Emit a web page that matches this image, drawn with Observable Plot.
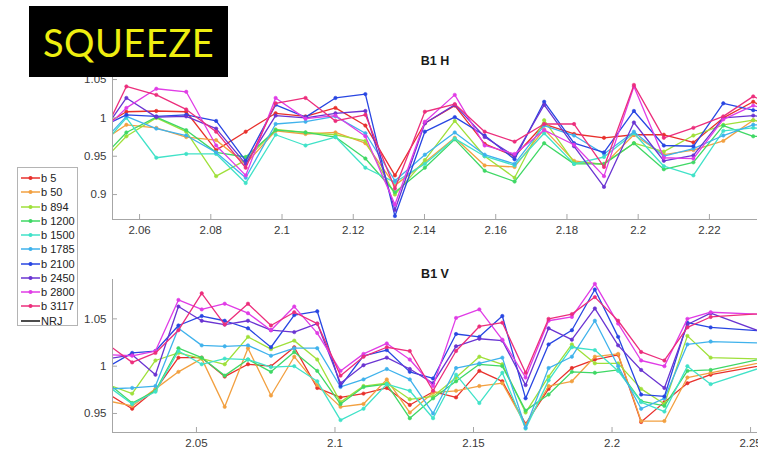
<!DOCTYPE html>
<html><head><meta charset="utf-8">
<script src="https://cdn.jsdelivr.net/npm/d3@7"></script>
<script src="https://cdn.jsdelivr.net/npm/@observablehq/plot@0.6"></script>
<style>
body{margin:0;background:#fff;}
#wrap{position:relative;width:758px;height:452px;overflow:hidden;font-family:"Liberation Sans",Arial,sans-serif;background:#fff;}
#top,#bot{position:absolute;left:0;}
#top{top:0;}
#bot{top:240px;}
#badge{position:absolute;left:29px;top:6px;width:199px;height:71px;background:#000;color:#eeee10;font-family:Lato,"Open Sans",sans-serif;font-size:38px;display:flex;align-items:center;justify-content:center;z-index:5;letter-spacing:0.5px;}
#legend{position:absolute;left:17px;top:167px;width:59px;height:157px;border:1px solid #b4b4b4;background:#fff;z-index:4;}
.row{position:absolute;left:0;height:14px;display:flex;align-items:center;font-size:11px;color:#222;white-space:nowrap;}
.row svg{display:block;flex:none;}
</style>
</head><body>
<div id="wrap">
  <div id="top"></div>
  <div id="bot"></div>
  <div id="badge">SQUEEZE</div>
  <div id="legend"></div>
</div>
<script>
// ---- legend / series ----
const names  = ["b 5","b 50","b 894","b 1200","b 1500","b 1785","b 2100","b 2450","b 2800","b 3117"];
const colors = ["#e8302c","#f2a040","#9fe03a","#3fd865","#40e2c8","#3fb2ec","#2846e2","#6a34d2","#e03ce6","#ec2e7c"];
const extraName = "NRJ";
const extraColor = "#111111";

// ---- x positions (energy) ----
const xH = [2.0479,2.0563,2.0647,2.0731,2.0815,2.0898,2.0982,2.1066,2.1150,2.1234,2.1317,2.1401,2.1485,2.1569,2.1653,2.1736,2.1820,2.1904,2.1988,2.2072,2.2155,2.2239,2.2323,2.2407];
const xV = [2.0185,2.0268,2.0352,2.0435,2.0519,2.0602,2.0686,2.0769,2.0853,2.0936,2.1020,2.1103,2.1187,2.1270,2.1354,2.1437,2.1521,2.1604,2.1688,2.1771,2.1855,2.1938,2.2022,2.2105,2.2189,2.2272,2.2356,2.2606];

// ---- B1 H values ----
const H_b5    = [0.985,1.008,1.009,1.008,0.958,0.982,1.006,1.002,1.013,0.990,0.925,0.993,1.016,0.966,0.950,0.992,0.979,0.974,0.978,0.978,0.968,1.000,1.021,1.000];
const H_b50   = [0.965,0.991,0.987,0.975,0.971,0.940,0.983,0.979,0.981,0.967,0.912,0.942,0.974,0.938,0.936,0.985,0.944,0.939,0.978,0.952,0.958,0.970,0.997,0.990];
const H_b894  = [0.935,0.976,1.000,0.982,0.924,0.945,0.985,0.981,0.978,0.970,0.900,0.945,0.996,0.950,0.922,0.997,0.942,0.940,0.967,0.956,0.977,0.991,0.997,0.990];
const H_b1200 = [0.940,0.981,1.001,0.984,0.955,0.949,0.984,0.981,0.975,0.947,0.903,0.935,0.972,0.931,0.917,0.967,0.940,0.940,0.967,0.933,0.942,0.990,0.976,0.975];
const H_b1500 = [0.955,1.000,0.948,0.953,0.953,0.915,0.978,0.964,0.975,0.935,0.916,0.940,0.973,0.950,0.938,0.980,0.940,0.949,0.980,0.937,0.925,0.983,0.987,0.985];
const H_b1785 = [0.960,1.002,0.986,0.977,0.955,0.922,0.992,0.995,1.002,0.980,0.918,0.952,0.981,0.952,0.940,0.990,0.977,0.953,0.982,0.950,0.960,0.977,0.991,0.990];
const H_b2100 = [0.985,1.004,1.002,1.004,0.996,0.944,1.017,1.001,1.026,1.031,0.872,0.982,1.001,0.977,0.946,1.021,0.967,0.955,1.009,0.964,0.963,1.019,1.010,1.005];
const H_b2450 = [0.970,1.026,1.001,1.002,0.986,0.940,1.003,1.000,1.006,1.009,0.880,0.993,1.017,0.975,0.950,1.017,0.963,0.910,0.994,0.944,0.951,1.000,1.003,0.998];
const H_b2800 = [0.975,1.013,1.038,1.034,0.964,0.925,1.026,0.999,1.003,0.976,0.887,0.995,1.030,0.964,0.953,0.984,0.965,0.924,1.041,0.948,0.947,0.998,1.016,1.005];
const H_b3117 = [0.960,1.041,1.030,1.011,0.982,0.935,1.019,1.026,0.996,1.004,0.908,1.008,1.018,0.982,0.969,0.992,0.992,0.936,1.043,0.974,0.987,1.002,1.028,1.010];

// ---- B1 V values ----
const V_b5    = [0.970,0.955,0.975,1.009,1.009,0.989,1.002,1.000,1.020,0.977,0.967,0.971,0.977,0.959,0.973,0.967,0.995,0.984,0.939,0.976,0.998,1.007,1.012,0.941,0.962,0.982,0.991,1.004];
const V_b50   = [0.963,0.958,0.976,0.994,1.008,0.957,1.019,0.969,1.010,0.980,0.957,0.960,0.986,0.951,0.972,0.974,0.979,0.982,0.938,0.979,0.984,1.010,1.013,0.942,0.942,0.988,0.993,1.008];
const V_b894  = [0.980,0.971,1.006,1.014,1.008,1.002,1.031,1.018,1.027,1.007,0.962,0.979,0.982,0.965,0.968,0.988,1.010,1.002,0.951,0.989,1.023,1.003,1.003,0.976,0.960,1.032,1.009,1.007];
const V_b1200 = [0.981,0.961,0.974,1.019,1.009,0.990,1.007,0.994,1.015,0.995,0.960,0.978,0.981,0.945,0.966,0.984,1.002,1.000,0.953,0.970,0.994,0.993,0.996,0.963,0.958,0.995,0.996,1.012];
const V_b1500 = [0.978,0.960,0.973,1.016,1.002,1.008,1.007,0.999,1.000,0.984,0.943,0.955,0.981,0.974,0.945,0.991,0.961,0.993,0.934,0.985,1.020,1.017,0.995,0.962,0.952,1.000,0.981,1.005];
const V_b1785 = [0.976,0.977,0.979,1.040,1.022,1.021,1.022,1.011,1.019,1.019,0.978,0.986,0.997,0.986,0.950,0.998,1.003,1.009,0.935,0.998,1.010,1.048,1.000,0.955,0.966,1.023,1.026,1.024];
const V_b2100 = [1.000,1.014,1.016,1.043,1.053,1.048,1.040,1.020,1.054,1.058,0.979,1.011,1.017,0.994,0.987,1.034,1.031,1.053,0.966,1.023,1.038,1.081,1.031,0.970,0.968,1.046,1.041,1.036];
const V_b2450 = [1.008,1.012,0.991,1.063,1.048,1.044,1.048,1.038,1.036,1.045,0.982,1.001,1.009,0.997,0.982,1.021,1.029,1.027,0.980,1.040,1.028,1.061,1.022,0.996,0.977,1.044,1.056,1.029];
const V_b2800 = [1.012,1.011,1.016,1.070,1.060,1.066,1.056,1.038,1.063,1.035,0.995,1.013,1.024,1.007,0.979,1.051,1.060,1.028,0.988,1.048,1.052,1.087,1.045,1.006,1.000,1.050,1.057,1.054];
const V_b3117 = [1.022,1.004,1.014,1.038,1.077,1.044,1.066,1.043,1.057,1.045,0.990,1.010,1.020,1.016,0.974,1.016,1.042,1.046,0.993,1.050,1.055,1.073,1.048,1.015,1.006,1.041,1.052,1.057];

// ---- ticks ----
const xTicksH = [2.06,2.08,2.1,2.12,2.14,2.16,2.18,2.2,2.22];
const yTicksH = [0.9,0.95,1,1.05];
const xTicksV = [2.05,2.1,2.15,2.2,2.25];
const yTicksV = [0.95,1,1.05];

const seriesH = [H_b5,H_b50,H_b894,H_b1200,H_b1500,H_b1785,H_b2100,H_b2450,H_b2800,H_b3117];
const seriesV = [V_b5,V_b50,V_b894,V_b1200,V_b1500,V_b1785,V_b2100,V_b2450,V_b2800,V_b3117];

const axisCol = "#a6a6a6";
const font = '"Liberation Sans", Arial, sans-serif';

function panel({title, xs, series, xDomain, yDomain, xTicks, yTicks, height, marginTop, marginBottom}) {
  const marks = [];
  series.forEach((vals, k) => {
    const data = vals.map((v, i) => ({x: xs[i], y: v}));
    marks.push(Plot.line(data, {x: "x", y: "y", stroke: colors[k], strokeWidth: 1.3, clip: true}));
    marks.push(Plot.dot(data, {x: "x", y: "y", fill: colors[k], stroke: colors[k], strokeWidth: 0.6, r: 1.7, clip: true}));
  });
  marks.push(Plot.ruleY([yDomain[0]], {stroke: axisCol, strokeWidth: 1}));
  marks.push(Plot.ruleX([xDomain[0]], {stroke: axisCol, strokeWidth: 1}));
  marks.push(Plot.ruleX(xTicks, {x: d => d, y1: yDomain[0], y2: yDomain[0], insetTop: -5, stroke: axisCol}));
  marks.push(Plot.ruleY(yTicks, {y: d => d, x1: xDomain[0], x2: xDomain[0], insetRight: -5, stroke: axisCol}));
  marks.push(Plot.axisX(xTicks, {tickSize: 0, tickPadding: 6, tickFormat: d => String(d), fill: "#3a3a3a", fontSize: 11.5}));
  marks.push(Plot.axisY(yTicks, {tickSize: 0, tickPadding: 6, tickFormat: d => String(d), fill: "#3a3a3a", fontSize: 11.5}));
  marks.push(Plot.text([title], {frameAnchor: "top", dy: -10, fontWeight: "bold", fontSize: 12.5, fill: "#1a1a1a", text: d => d}));
  return Plot.plot({
    width: 758, height, marginLeft: 112, marginRight: 1, marginTop, marginBottom,
    style: {fontFamily: font, background: "transparent", overflow: "visible"},
    x: {domain: xDomain, label: null},
    y: {domain: yDomain, label: null},
    marks
  });
}

document.getElementById("top").appendChild(panel({
  title: "B1 H", xs: xH, series: seriesH,
  xDomain: [2.0524, 2.2335], yDomain: [0.8675, 1.067],
  xTicks: xTicksH, yTicks: yTicksH, height: 240, marginTop: 66, marginBottom: 21
}));
document.getElementById("bot").appendChild(panel({
  title: "B1 V", xs: xV, series: seriesV,
  xDomain: [2.0197, 2.2525], yDomain: [0.9299, 1.0916],
  xTicks: xTicksV, yTicks: yTicksV, height: 212, marginTop: 39, marginBottom: 20
}));

// legend
const leg = d3.select("#legend");
const entries = names.map((n, i) => ({n, c: colors[i], dot: true})).concat([{n: extraName, c: extraColor, dot: false}]);
entries.forEach((e, i) => {
  const row = leg.append("div").attr("class", "row").style("top", (3 + i * 14.27) + "px");
  const s = row.append("svg").attr("width", 23).attr("height", 14);
  s.append("line").attr("x1", 3).attr("x2", 22).attr("y1", 7).attr("y2", 7).attr("stroke", e.c).attr("stroke-width", 1.5);
  if (e.dot) s.append("circle").attr("cx", 12.5).attr("cy", 7).attr("r", 2).attr("fill", e.c);
  row.append("span").text(e.n);
});
</script>
</body></html>
